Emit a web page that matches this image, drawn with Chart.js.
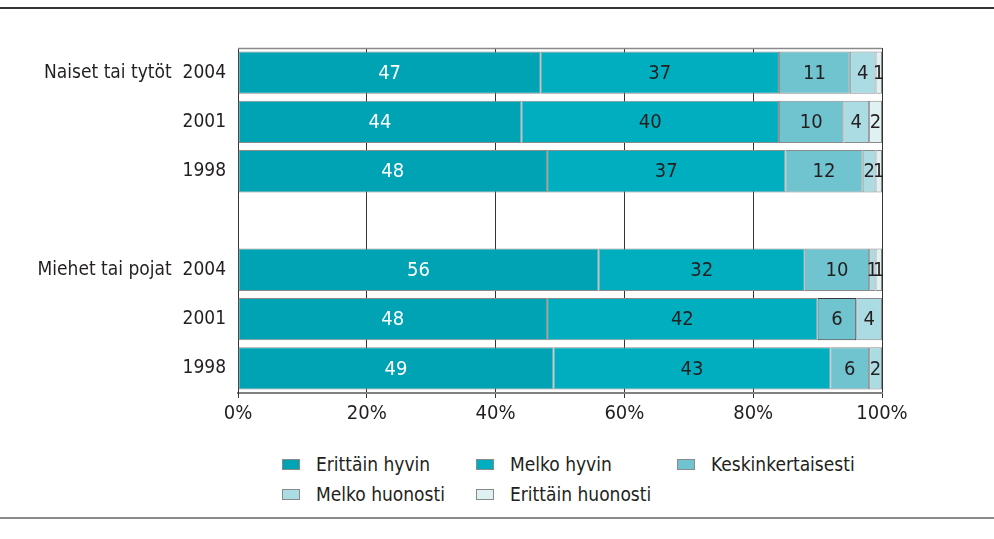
<!DOCTYPE html>
<html>
<head>
<meta charset="utf-8">
<script src="https://cdn.jsdelivr.net/npm/chart.js@4"></script>
<style>
  html, body { margin:0; padding:0; background:#fff; }
  body { width:994px; height:539px; position:relative; overflow:hidden;
         font-family:'DejaVu Sans Condensed','DejaVu Sans',sans-serif; color:#231f20; }
  #wrap { position:absolute; left:0; top:0; width:994px; height:430px; }
  .rule { position:absolute; left:0; width:994px; }
  #topRule { top:7px; height:2px; background:#333; }
  #botRule { top:517px; height:2px; background:#8a8a8a; }
  .lg { position:absolute; font-size:19px; line-height:22px; white-space:nowrap; }
  .sw { position:absolute; width:18px; height:11px; border:1px solid #8a8a8a; box-sizing:border-box; }
</style>
</head>
<body>
<div id="topRule" class="rule"></div>
<div id="wrap"><canvas id="c"></canvas></div>
<div id="legend"></div>
<div id="botRule" class="rule"></div>
<script>
// ---- data ----
const groups = ["Naiset tai tytöt", "Miehet tai pojat"];
const years = ["2004", "2001", "1998"];
const seriesNames = ["Erittäin hyvin", "Melko hyvin", "Keskinkertaisesti", "Melko huonosti", "Erittäin huonosti"];
// rows: Naiset 2004, 2001, 1998, (gap), Miehet 2004, 2001, 1998
const erittainHyvin   = [47, 44, 48, null, 56, 48, 49];
const melkoHyvin      = [37, 40, 37, null, 32, 42, 43];
const keskinkertainen = [11, 10, 12, null, 10, 6, 6];
const melkoHuonosti   = [4, 4, 2, null, 1, 4, 2];
const erittainHuonosti= [1, 2, 1, null, 1, 0, 0];
const xTicks = [0, 20, 40, 60, 80, 100];

// ---- styles ----
const colors = ["#00a3b3", "#00afbf", "#70c4cf", "#abdce3", "#dff1f3"];
const labelColors = ["#ffffff", "#231f20", "#231f20", "#231f20", "#231f20"];
const FONT = "'DejaVu Sans Condensed','DejaVu Sans',sans-serif";

const categories = [];
groups.forEach((g, gi) => {
  years.forEach((y, yi) => categories.push(yi === 0 ? g + "  " + y : y));
  if (gi < groups.length - 1) categories.push("");
});

const seriesData = [erittainHyvin, melkoHyvin, keskinkertainen, melkoHuonosti, erittainHuonosti];
const datasets = seriesData.map((d, i) => ({
  label: seriesNames[i],
  data: d,
  backgroundColor: colors[i],
  borderColor: i === 2 ? d.map((v, k) => k === 5 ? "#3a3a3a" : "#8a8a8a") : "#8a8a8a",
  borderWidth: 1,
  borderSkipped: false,
  barPercentage: 0.86,
  categoryPercentage: 1.0
}));

const labelPlugin = {
  id: "segLabels",
  afterDatasetsDraw(chart) {
    const ctx = chart.ctx;
    ctx.save();
    ctx.font = "20px " + FONT;
    ctx.textAlign = "center";
    ctx.textBaseline = "middle";
    chart.data.datasets.forEach((ds, i) => {
      const meta = chart.getDatasetMeta(i);
      meta.data.forEach((el, k) => {
        const v = ds.data[k];
        if (v === null || v === 0) return;
        const p = el.getProps(["x", "y", "base"], true);
        ctx.fillStyle = labelColors[i];
        ctx.fillText(String(v), (p.x + p.base) / 2, p.y + 1);
      });
    });
    ctx.restore();
  },
  afterDraw(chart) {
    const a = chart.chartArea, ctx = chart.ctx;
    ctx.save();
    ctx.strokeStyle = "#8a8a8a";
    ctx.lineWidth = 1.5;
    ctx.beginPath();
    ctx.moveTo(a.left, a.top + 0.5);
    ctx.lineTo(a.right, a.top + 0.5);
    ctx.stroke();
    ctx.restore();
  }
};

new Chart(document.getElementById("c"), {
  type: "bar",
  data: { labels: categories, datasets },
  plugins: [labelPlugin],
  options: {
    indexAxis: "y",
    responsive: true,
    maintainAspectRatio: false,
    animation: false,
    layout: { padding: { left: 0, right: 112, top: 48, bottom: 0 } },
    plugins: { legend: { display: false }, tooltip: { enabled: false } },
    scales: {
      x: {
        stacked: true, min: 0, max: 100,
        afterBuildTicks(s) { s.ticks = xTicks.map(v => ({ value: v })); },
        afterFit(s) { s.height = 37; },
        grid: { color: "#333", lineWidth: 1, drawTicks: true, tickLength: 5, tickColor: "#333" },
        border: { display: true, color: "#808080", width: 2 },
        ticks: { color: "#231f20", font: { family: FONT, size: 20 }, padding: 4,
                 callback: v => v + "%" }
      },
      y: {
        stacked: true,
        afterFit(s) { s.width = 238; },
        grid: { display: false, drawTicks: false },
        border: { display: true, color: "#333", width: 1 },
        ticks: { color: "#231f20", font: { family: FONT, size: 19 }, padding: 12, autoSkip: false }
      }
    }
  }
});

// ---- legend (HTML, built from series names) ----
const legendPos = [[282, 459], [476, 459], [677, 459], [282, 489], [476, 489]];
const lg = document.getElementById("legend");
seriesNames.forEach((n, i) => {
  const [x, y] = legendPos[i];
  const sw = document.createElement("div");
  sw.className = "sw";
  sw.style.left = x + "px"; sw.style.top = y + "px";
  sw.style.background = colors[i];
  lg.appendChild(sw);
  const t = document.createElement("div");
  t.className = "lg";
  t.textContent = n;
  t.style.left = (x + 34) + "px"; t.style.top = (y - 6) + "px";
  lg.appendChild(t);
});
</script>
</body>
</html>
